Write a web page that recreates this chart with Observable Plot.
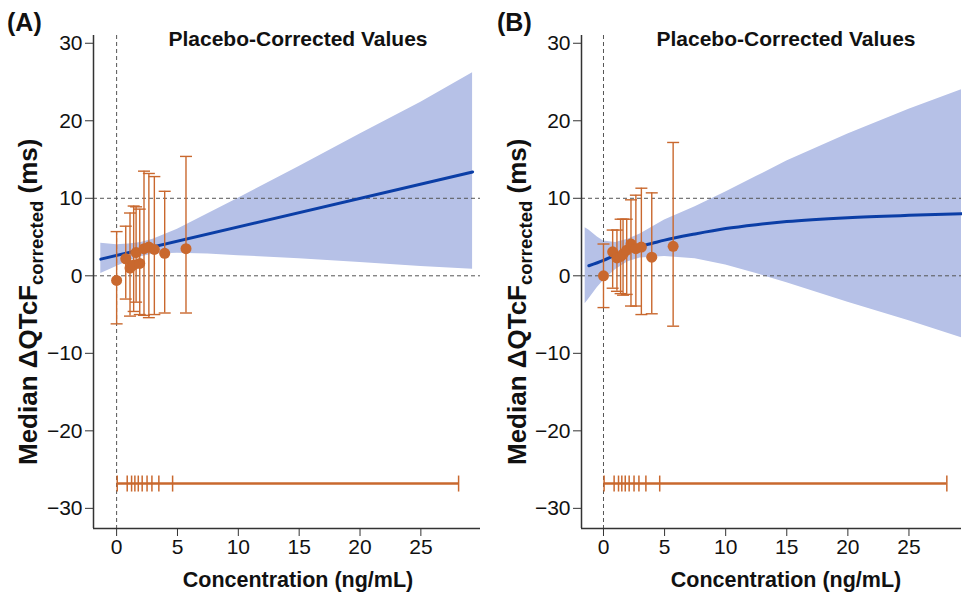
<!DOCTYPE html>
<html><head><meta charset="utf-8">
<script src="https://cdn.jsdelivr.net/npm/d3@7"></script>
<script src="https://cdn.jsdelivr.net/npm/@observablehq/plot@0.6"></script>
<style>
body{margin:0;background:#fff;font-family:"Liberation Sans",Arial,sans-serif;}
#wrap{display:flex;width:962px;height:592px;}
#wrap svg{display:block;overflow:visible;}
</style></head><body><div id="wrap"></div>
<script>
// ---- data ----
const conc  = [0, 0.75, 1.1, 1.4, 1.6, 1.9, 2.25, 2.65, 3.1, 3.95, 5.7];
const medA  = [-0.6, 2.2, 1.0, 1.4, 3.0, 1.6, 3.5, 3.7, 3.4, 2.9, 3.5];
const loA   = [-6.2, -3.0, -5.2, -4.6, -3.4, -5.0, -5.1, -5.4, -5.0, -4.8, -4.8];
const hiA   = [5.7, 6.4, 8.1, 9.0, 8.9, 8.6, 13.5, 13.2, 12.8, 10.9, 15.4];
const medB  = [0.0, 3.1, 2.3, 2.5, 2.8, 3.3, 4.1, 3.5, 3.7, 2.4, 3.8];
const loB   = [-4.1, -1.6, -2.0, -2.3, -2.5, -2.4, -3.9, -3.9, -5.0, -4.9, -6.5];
const hiB   = [4.1, 5.9, 5.9, 7.3, 7.3, 7.3, 9.8, 10.4, 11.3, 10.7, 17.2];
const rug   = [0.05, 0.87, 1.23, 1.5, 1.78, 2.1, 2.5, 2.9, 3.47, 4.6, 28.1];
const rugLevel = -26.8;

const fitXA = [-1.3, 29.25];
const fitYA = [2.15, 13.4];
const bandXA  = [-1.3, 0, 1, 2, 3, 5, 7.5, 10, 15, 20, 25, 29.25];
const bandLoA = [0.3, 1.2, 1.9, 2.45, 2.8, 2.9, 2.8, 2.6, 2.2, 1.7, 1.2, 0.85];
const bandHiA = [4.2, 4.0, 4.1, 4.3, 4.7, 6.0, 8.0, 10.0, 14.1, 18.3, 22.4, 26.2];

const fitXB = [-1.2, 0, 1, 2, 3, 4, 5, 7.5, 10, 12.5, 15, 20, 25, 29.3];
const fitYB = [1.3, 2.0, 2.7, 3.3, 3.8, 4.2, 4.6, 5.4, 6.1, 6.6, 7.0, 7.5, 7.8, 8.0];
const bandXB  = [-1.5, -1.2, -0.5, 0, 1, 2, 3, 5, 7.5, 10, 12.5, 15, 20, 25, 29.3];
const bandLoB = [-3.6, -3.0, -1.5, -0.6, 0.8, 1.8, 2.3, 2.5, 2.2, 1.4, 0.3, -0.9, -3.4, -5.8, -8.0];
const bandHiB = [6.2, 5.9, 5.0, 4.5, 4.3, 4.7, 5.4, 7.2, 8.9, 10.8, 12.8, 14.8, 18.3, 21.5, 24.0];

const refLines = [0, 10];
const yTicks = [-30, -20, -10, 0, 10, 20, 30];
const xTicks = [0, 5, 10, 15, 20, 25];
const yDomain = [-32.6, 31.0];

const ORANGE = "#c9682e", BLUE = "#0b3ea6", BAND = "#b6c1e7", DASH = "#555", INK = "#111";

const capH = {draw(ctx, size){ const w = Math.sqrt(size/Math.PI); ctx.moveTo(-w,0); ctx.lineTo(w,0); }};
const capV = {draw(ctx, size){ const w = Math.sqrt(size/Math.PI); ctx.moveTo(0,-w); ctx.lineTo(0,w); }};

function panel(cfg){
  const pts = conc.map((c,i)=>({x:c, m:cfg.med[i], lo:cfg.lo[i], hi:cfg.hi[i]}));
  const band = cfg.bx.map((x,i)=>({x, lo:cfg.blo[i], hi:cfg.bhi[i]}));
  const fit = cfg.fx.map((x,i)=>({x, y:cfg.fy[i]}));
  const rugPts = rug.map(r=>({x:r}));
  const svg = Plot.plot({
    width: 481, height: 592,
    marginLeft: cfg.ml, marginRight: cfg.mr, marginTop: 35, marginBottom: 64,
    x: {domain: cfg.xd}, y: {domain: yDomain},
    style: {fontFamily: '"Liberation Sans", Arial, sans-serif', overflow: "visible"},
    marks: [
      Plot.areaY(band, {x:"x", y1:"lo", y2:"hi", fill: BAND}),
      Plot.ruleY(refLines, {stroke: DASH, strokeDasharray: "4,3", strokeWidth: 1}),
      Plot.ruleX([0], {stroke: DASH, strokeDasharray: "4,3", strokeWidth: 1}),
      Plot.line(fit, {x:"x", y:"y", stroke: BLUE, strokeWidth: 3, curve: "monotone-x"}),
      Plot.ruleX(pts, {x:"x", y1:"lo", y2:"hi", stroke: ORANGE, strokeWidth: 1.4}),
      Plot.dot(pts, {x:"x", y:"hi", symbol: capH, r: 6, stroke: ORANGE, fill: "none", strokeWidth: 1.4}),
      Plot.dot(pts, {x:"x", y:"lo", symbol: capH, r: 6, stroke: ORANGE, fill: "none", strokeWidth: 1.4}),
      Plot.dot(pts, {x:"x", y:"m", r: 5.5, fill: ORANGE}),
      Plot.ruleY([rugLevel], {x1: rug[0], x2: rug[rug.length-1], stroke: ORANGE, strokeWidth: 2.5}),
      Plot.dot(rugPts, {x:"x", y: () => rugLevel, symbol: capV, r: 8, stroke: ORANGE, fill: "none", strokeWidth: 1.5}),
      Plot.ruleX([cfg.xd[0]], {stroke: "#333", strokeWidth: 1.5}),
      Plot.ruleY([yDomain[0]], {stroke: "#333", strokeWidth: 1.5}),
      Plot.axisY(yTicks, {tickSize: 8, fontSize: 21, label: null, stroke: "#333", fill: INK, tickPadding: 3}),
      Plot.axisX(xTicks, {tickSize: 8, fontSize: 21, label: null, stroke: "#333", fill: INK, tickPadding: 3})
    ]
  });
  const s = d3.select(svg);
  s.append("text").attr("x", cfg.tx).attr("y", 46).attr("text-anchor","middle")
    .attr("font-size", 21).attr("font-weight","bold").attr("fill",INK).text("Placebo-Corrected Values");
  s.append("text").attr("x", cfg.tx).attr("y", 587).attr("text-anchor","middle")
    .attr("font-size", 21.5).attr("font-weight","bold").attr("fill",INK).text("Concentration (ng/mL)");
  s.append("text").attr("x", cfg.px).attr("y", 31).attr("text-anchor","start")
    .attr("font-size", 25).attr("font-weight","bold").attr("fill",INK).text(cfg.tag);
  const yl = s.append("text").attr("transform", `translate(${cfg.yx},465) rotate(-90)`).attr("text-anchor","start")
    .attr("font-size", 26).attr("font-weight","bold").attr("fill",INK);
  yl.append("tspan").text("Median \u0394QTcF");
  yl.append("tspan").attr("font-size", 18.5).attr("dy", 6).text("corrected");
  yl.append("tspan").attr("dy", -6).text(" (ms)");
  return svg;
}

const wrap = document.getElementById("wrap");
wrap.appendChild(panel({med: medA, lo: loA, hi: hiA, bx: bandXA, blo: bandLoA, bhi: bandHiA, fx: fitXA, fy: fitYA,
  xd: [-1.9, 29.9], ml: 93, mr: 1, tx: 298, px: 7, tag: "(A)", yx: 37}));
wrap.appendChild(panel({med: medB, lo: loB, hi: hiB, bx: bandXB, blo: bandLoB, bhi: bandHiB, fx: fitXB, fy: fitYB,
  xd: [-1.8, 29.3], ml: 100, mr: 1, tx: 305, px: 16, tag: "(B)", yx: 45}));
</script></body></html>
